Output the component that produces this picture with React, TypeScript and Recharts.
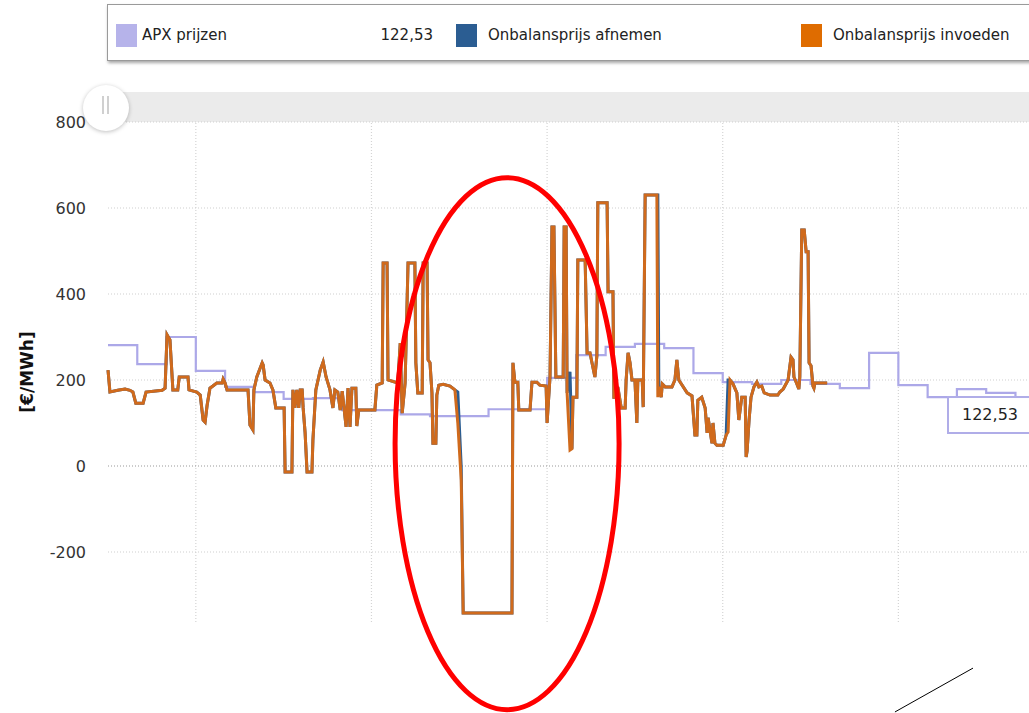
import React from 'react';
import { LineChart, Line, XAxis, YAxis, ReferenceLine, ReferenceDot } from 'recharts';

// x-as: minuten vanaf het begin van het zichtbare venster (33 uur)
const uurTijden = [
  0, 60, 120, 180, 240, 300, 360, 420, 480, 540, 600, 660, 720, 780, 840, 900, 960,
  1020, 1080, 1140, 1200, 1260, 1320, 1380, 1440, 1500, 1560, 1620, 1680, 1740, 1800, 1860, 1920, 1980,
];
const apxPrijzen = [
  281, 237, 300, 221, 184, 172, 156, 158, 130, 130, 120, 116, 116, 132, 132, 205, 258,
  277, 284, 274, 216, 195, 191, 200, 191, 181, 263, 188, 160, 179, 170, 160, 160, 160,
];

const invoedenMinuten = [
  0, 4, 20, 35, 45, 51, 57, 72, 78, 111, 117, 121, 127, 133, 143, 146, 164, 166, 182, 189,
  195, 199, 203, 209, 215, 223, 234, 236, 240, 244, 287, 291, 297, 299, 305, 316, 318, 322, 332, 338,
  344, 361, 363, 377, 379, 383, 387, 391, 394, 398, 400, 404, 408, 418, 420, 426, 435, 441, 447, 455,
  461, 465, 471, 476, 480, 488, 492, 496, 500, 508, 510, 514, 547, 551, 562, 564, 572, 574, 594, 599,
  603, 609, 615, 629, 631, 635, 644, 646, 654, 656, 660, 664, 666, 672, 674, 678, 687, 701, 711, 717,
  724, 728, 828, 830, 834, 840, 842, 865, 869, 879, 885, 898, 900, 906, 910, 914, 918, 933, 935, 939,
  941, 947, 951, 953, 961, 963, 978, 982, 988, 992, 998, 1002, 1004, 1023, 1025, 1035, 1037, 1043, 1045, 1052,
  1060, 1062, 1066, 1070, 1074, 1080, 1084, 1086, 1095, 1097, 1101, 1125, 1127, 1129, 1134, 1136, 1142, 1156, 1162, 1166,
  1170, 1187, 1197, 1203, 1207, 1209, 1217, 1224, 1228, 1230, 1238, 1240, 1244, 1248, 1261, 1267, 1271, 1275, 1281, 1289,
  1293, 1299, 1306, 1308, 1310, 1314, 1318, 1324, 1330, 1334, 1340, 1345, 1357, 1373, 1377, 1384, 1394, 1400, 1404, 1406,
  1412, 1416, 1418, 1422, 1427, 1431, 1435, 1437, 1441, 1445, 1447, 1449, 1474,
];
const invoedenPrijs = [
  223, 172, 176, 179, 176, 172, 146, 146, 172, 176, 181, 305, 293, 177, 177, 207, 207, 177, 172, 165,
  107, 102, 140, 181, 186, 193, 193, 202, 193, 177, 177, 95, 84, 177, 207, 240, 235, 200, 193, 177,
  135, 135, -14, -14, 177, 135, 177, 135, 177, 177, 135, 77, -14, -14, 60, 177, 223, 242, 207, 177,
  135, 177, 172, 130, 174, 91, 181, 91, 181, 181, 93, 130, 130, 188, 193, 472, 472, 200, 193, 286,
  123, 193, 472, 472, 240, 170, 170, 472, 472, 247, 240, 170, 53, 53, 165, 188, 190, 186, 177, 100,
  -33, -342, -342, 240, 195, 195, 130, 130, 195, 195, 188, 186, 100, 207, 556, 556, 207, 207, 556, 556,
  170, 37, 40, 160, 160, 479, 479, 263, 263, 240, 207, 256, 612, 612, 405, 405, 160, 160, 184, 135,
  135, 200, 263, 240, 200, 200, 100, 200, 200, 137, 630, 630, 160, 184, 160, 191, 184, 184, 200, 247,
  200, 170, 163, 72, 72, 153, 160, 135, 77, 112, 53, 100, 53, 48, 48, 72, 79, 200, 191, 170,
  107, 160, 160, 21, 35, 107, 160, 184, 195, 184, 186, 170, 165, 165, 172, 179, 200, 253, 247, 207,
  191, 179, 207, 549, 549, 498, 498, 240, 233, 186, 181, 193, 193,
];

// Onbalansprijs afnemen valt vrijwel samen met invoeden, behalve op deze momenten
const afnemenMinuten = [717, 724, 947, 1127, 1271];
const afnemenPrijs = [172, -2, 219, 630, 200];

const yTicks = [-200, 0, 200, 400, 600, 800];
const xTicks = [180, 540, 900, 1260, 1620];

const legendItems = [
  { naam: 'APX prijzen', kleur: '#b6b3ea', waarde: '122,53' },
  { naam: 'Onbalansprijs afnemen', kleur: '#2b5d92', waarde: '' },
  { naam: 'Onbalansprijs invoeden', kleur: '#df6c00', waarde: '' },
];
const balloonWaarde = '122,53';

const apxData = uurTijden.map((t, i) => ({ t, apx: apxPrijzen[i] }));
const invoedenData = invoedenMinuten.map((t, i) => ({ t, v: invoedenPrijs[i] }));
const afnemenData = invoedenMinuten.map((t, i) => {
  const j = afnemenMinuten.indexOf(t);
  return { t, v: j >= 0 ? afnemenPrijs[j] : invoedenPrijs[i] };
});

const FONT = '"DejaVu Sans", Verdana, sans-serif';

const legendPos = [
  { sq: 8, tx: 34, val: 271 },
  { sq: 348, tx: 380 },
  { sq: 693, tx: 725 },
];

function YLabel(props: any) {
  const vb = props.viewBox || { x: 0, y: 122, width: 108, height: 500 };
  const cx = vb.x + 27;
  const cy = vb.y + vb.height / 2;
  return (
    <text
      x={cx}
      y={cy}
      transform={`rotate(-90, ${cx}, ${cy})`}
      textAnchor="middle"
      dominantBaseline="central"
      fontFamily={FONT}
      fontWeight="bold"
      fontSize={17}
      fill="#111"
    >
      [€/MWh]
    </text>
  );
}

export default function App() {
  return (
    <div
      style={{
        position: 'absolute',
        left: 0,
        top: 0,
        width: 1029,
        height: 713,
        overflow: 'hidden',
        background: '#fff',
        fontFamily: FONT,
      }}
    >
      {/* legend */}
      <div
        style={{
          position: 'absolute',
          left: 107,
          top: 4,
          width: 960,
          height: 55,
          border: '1px solid #9a9a9a',
          boxShadow: '1px 2px 3px rgba(0,0,0,0.35)',
          background: '#fff',
        }}
      >
        {legendItems.map((it, i) => (
          <React.Fragment key={it.naam}>
            <div
              style={{
                position: 'absolute',
                left: legendPos[i].sq,
                top: 19,
                width: 21,
                height: 23,
                background: it.kleur,
              }}
            />
            <div
              style={{
                position: 'absolute',
                left: legendPos[i].tx,
                top: 20,
                fontSize: 15,
                lineHeight: '20px',
                color: '#222',
                whiteSpace: 'nowrap',
              }}
            >
              {it.naam}
            </div>
            {it.waarde ? (
              <div
                style={{
                  position: 'absolute',
                  left: legendPos[i].val,
                  width: 54,
                  textAlign: 'right',
                  top: 20,
                  fontSize: 15,
                  lineHeight: '20px',
                  color: '#222',
                }}
              >
                {it.waarde}
              </div>
            ) : null}
          </React.Fragment>
        ))}
      </div>

      {/* scrollbar */}
      <div
        style={{
          position: 'absolute',
          left: 100,
          top: 92,
          width: 940,
          height: 30,
          background: '#ebebeb',
        }}
      />

      <div style={{ position: 'absolute', left: 0, top: 0 }}>
        <LineChart width={1100} height={713} margin={{ top: 122, right: 26, bottom: 90, left: 0 }}>
          <XAxis
            dataKey="t"
            type="number"
            domain={[0, 1980]}
            ticks={xTicks}
            tick={false}
            axisLine={false}
            tickLine={false}
            height={1}
          />
          <YAxis
            type="number"
            domain={[-362.8, 800]}
            ticks={yTicks}
            width={108}
            axisLine={false}
            tickLine={false}
            tickSize={20}
            tick={{ fontSize: 16, fill: '#333', fontFamily: FONT }}
            label={<YLabel />}
          />
          {xTicks.map((t) => (
            <ReferenceLine key={'vx' + t} x={t} stroke="#d4d4d4" strokeDasharray="1 2" strokeWidth={1.2} />
          ))}
          {yTicks.map((v) => (
            <ReferenceLine
              key={'hy' + v}
              y={v}
              stroke={v === 0 ? '#9a9a9a' : '#d0d0d0'}
              strokeDasharray="1 2"
              strokeWidth={1.2}
            />
          ))}
          <Line
            data={apxData}
            dataKey="apx"
            type="stepAfter"
            stroke="#aca8e8"
            strokeWidth={2.2}
            dot={false}
            isAnimationActive={false}
          />
          <Line
            data={afnemenData}
            dataKey="v"
            type="linear"
            stroke="#2b5d92"
            strokeWidth={3}
            dot={false}
            isAnimationActive={false}
          />
          <Line
            data={invoedenData}
            dataKey="v"
            type="linear"
            stroke="#d06a1c"
            strokeWidth={3}
            dot={false}
            isAnimationActive={false}
          />
          <ReferenceDot
            x={818}
            y={52}
            ifOverflow="visible"
            shape={(p: any) => (
              <ellipse cx={p.cx} cy={p.cy} rx={112} ry={266} fill="none" stroke="#ff0000" strokeWidth={5} />
            )}
          />
          <ReferenceLine
            segment={[
              { x: 1613, y: -572 },
              { x: 1773, y: -470 },
            ]}
            ifOverflow="visible"
            stroke="#000"
            strokeWidth={1}
          />
        </LineChart>
      </div>

      {/* balloon */}
      <div
        style={{
          position: 'absolute',
          left: 947,
          top: 396,
          width: 120,
          height: 34,
          border: '2px solid #b0ade8',
          background: 'rgba(255,255,255,0.9)',
          boxSizing: 'content-box',
        }}
      >
        <div
          style={{
            position: 'absolute',
            left: 13,
            top: 7,
            fontSize: 16,
            lineHeight: '20px',
            color: '#222',
          }}
        >
          {balloonWaarde}
        </div>
      </div>

      {/* scrollbar handle */}
      <div
        style={{
          position: 'absolute',
          left: 83,
          top: 85,
          width: 46,
          height: 46,
          borderRadius: '50%',
          background: '#fff',
          boxShadow: '0 1px 4px rgba(0,0,0,0.25)',
        }}
      >
        <div style={{ position: 'absolute', left: 19, top: 11, width: 2, height: 18, background: '#d0d0d0' }} />
        <div style={{ position: 'absolute', left: 24, top: 11, width: 2, height: 18, background: '#d0d0d0' }} />
      </div>
    </div>
  );
}
